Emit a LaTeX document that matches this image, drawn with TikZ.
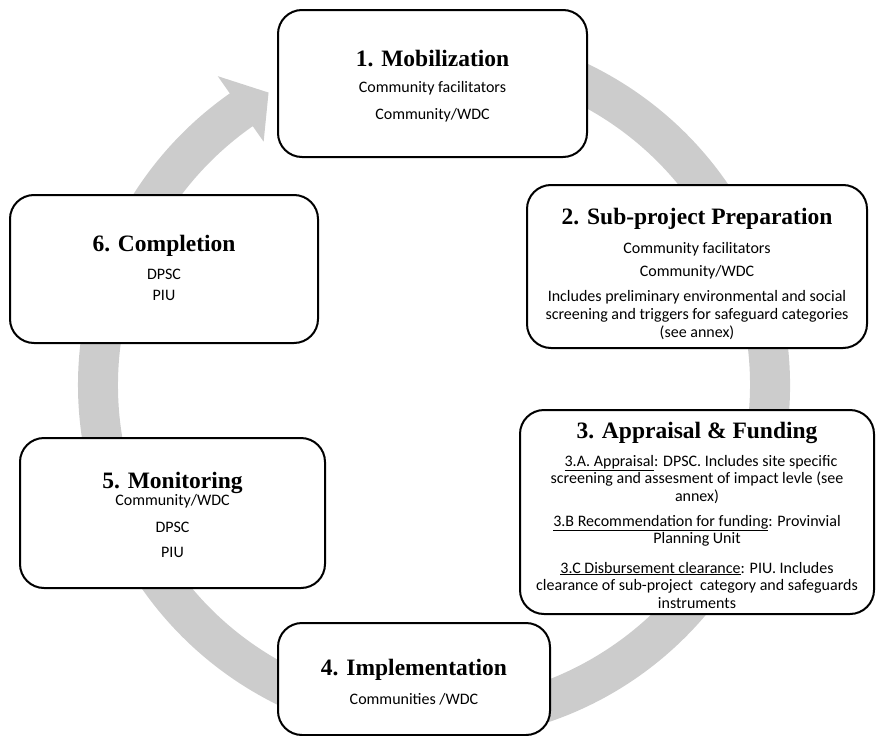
\documentclass[tikz,border=0pt]{standalone}
\usepackage{fontspec}
\setmainfont{Liberation Serif}
\newfontfamily\bodyfont{Carlito}
\usetikzlibrary{calc}
\definecolor{ringgray}{RGB}{204,204,204}
\begin{document}
\begin{tikzpicture}[x=1pt,y=-1pt,
  box/.style={draw=black, line width=2pt, fill=white, rounded corners=24pt, inner sep=0pt},
  ttl/.style={font=\fontsize{23.5}{28}\selectfont\bfseries, inner sep=0pt, anchor=base},
  txt/.style={font=\bodyfont\fontsize{16}{18}\selectfont, inner sep=0pt, anchor=base},
]
\useasboundingbox (0,0) rectangle (876,736);
\coordinate (C) at (434,385);
% circular arrow
\fill[ringgray] ($(C)+(-100:356)$) arc[start angle=-100, end angle=235, radius=356]
  -- ($(C)+(235:377)$) -- ($(C)+(240.5:336)$) -- ($(C)+(235:297)$)
  -- ($(C)+(235:316)$) arc[start angle=235, end angle=-100, radius=316] -- cycle;

% boxes
\node[box, minimum width=309, minimum height=147] (b1) at (432.5,83.5) {};
\node[box, minimum width=340, minimum height=163] (b2) at (697,266.5) {};
\node[box, minimum width=354, minimum height=204] (b3) at (697,512) {};
\node[box, minimum width=272, minimum height=112] (b4) at (414,679) {};
\node[box, minimum width=305, minimum height=150] (b5) at (172.5,513) {};
\node[box, minimum width=308, minimum height=148] (b6) at (164,269) {};

% box 1
\node[ttl] (t1) at (432.5,66) {1. Mobilization};
\node[txt] (t1a) at (432.5,92) {Community facilitators};
\node[txt] (t1b) at (432.5,119) {Community/WDC};

% box 2
\node[ttl] (t2) at (697,224) {2. Sub-project Preparation};
\node[txt] (t2a) at (697,253) {Community facilitators};
\node[txt] (t2b) at (697,276) {Community/WDC};
\node[txt] (t2c) at (697,301) {Includes preliminary environmental and social};
\node[txt] (t2d) at (697,319) {screening and triggers for safeguard categories};
\node[txt] (t2e) at (697,337) {(see annex)};

% box 3
\node[ttl] (t3) at (697,438) {3. Appraisal \& Funding};
\node[txt] (t3a) at (701,466) {\underline{3.A. Appraisal}: DPSC. Includes site specific};
\node[txt] (t3b) at (697,483.5) {screening and assesment of impact levle (see};
\node[txt] (t3c) at (697,501) {annex)};
\node[txt] (t3d) at (697,526) {\underline{3.B Recommendation for funding}: Provinvial};
\node[txt] (t3e) at (697,543.5) {Planning Unit};
\node[txt] (t3f) at (697,573) {\underline{3.C Disbursement clearance}: PIU. Includes};
\node[txt] (t3g) at (697,590.5) {clearance of sub-project\ \ category and safeguards};
\node[txt] (t3h) at (697,608) {instruments};

% box 4
\node[ttl] (t4) at (414,675) {4. Implementation};
\node[txt] (t4a) at (414,704) {Communities /WDC};

% box 5
\node[ttl] (t5) at (172.5,488) {5. Monitoring};
\node[txt] (t5a) at (172.5,505) {Community/WDC};
\node[txt] (t5b) at (172.5,532) {DPSC};
\node[txt] (t5c) at (172.5,557) {PIU};

% box 6
\node[ttl] (t6) at (164,251) {6. Completion};
\node[txt] (t6a) at (164,279) {DPSC};
\node[txt] (t6b) at (164,300) {PIU};
\end{tikzpicture}
\end{document}
